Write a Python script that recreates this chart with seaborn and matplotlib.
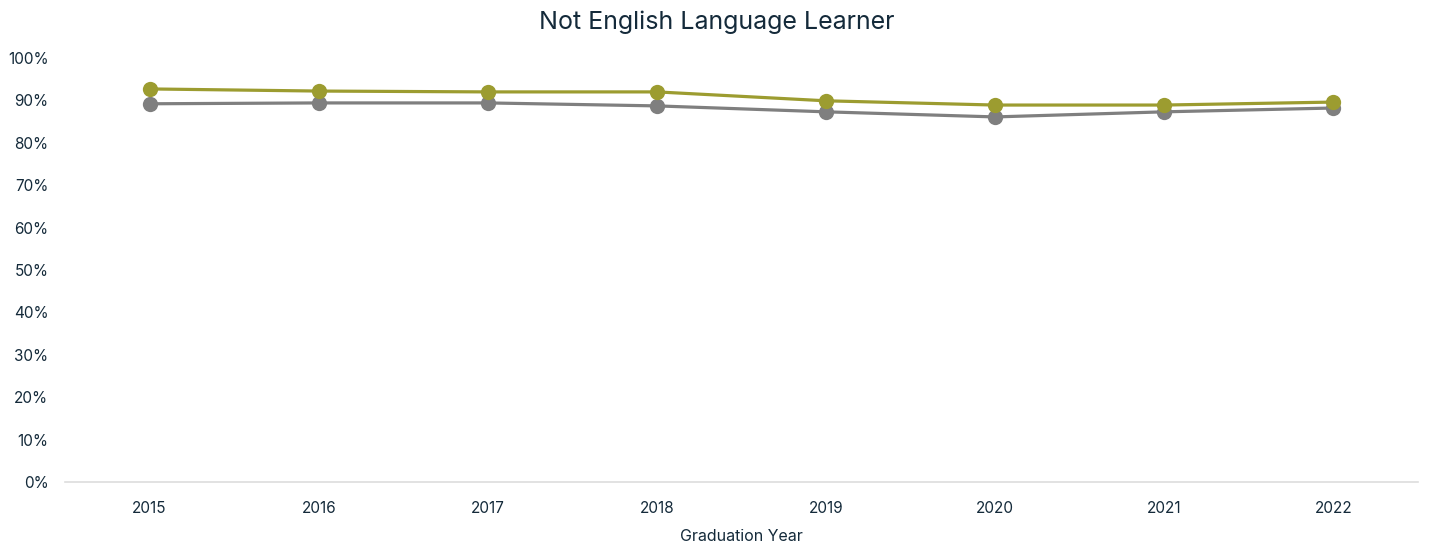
import numpy as np
import pandas as pd
import seaborn as sns
import matplotlib.pyplot as plt
from matplotlib.ticker import PercentFormatter

years = ["2015", "2016", "2017", "2018", "2019", "2020", "2021", "2022"]
series_a = [0.927, 0.922, 0.920, 0.920, 0.899, 0.889, 0.889, 0.896]  # olive
series_b = [0.892, 0.894, 0.894, 0.887, 0.873, 0.861, 0.873, 0.882]  # grey
names = ["Olive", "Grey"]
colors = ["#9c9c30", "#7f7f7f"]

df = pd.DataFrame({
    "year": years * 2,
    "rate": series_a + series_b,
    "group": [names[0]] * len(years) + [names[1]] * len(years),
})

sns.set_style("white")
plt.rcParams["font.family"] = ["Inter", "DejaVu Sans"]
text_col = "#142a3a"

fig = plt.figure(figsize=(14.3, 5.48), dpi=100)
ax = fig.add_axes([0.0455, 0.1204, 0.946, 0.7738])

# draw grey underneath olive
sns.lineplot(data=df, x="year", y="rate", hue="group", hue_order=[names[1], names[0]],
             palette=[colors[1], colors[0]], marker="o", markersize=11, markeredgewidth=0,
             linewidth=2.3, legend=False, ax=ax)

ax.set_ylim(0, 1.0)
ax.set_xlim(-0.5, len(years) - 0.5)
ax.set_yticks(np.arange(0, 1.01, 0.1))
ax.yaxis.set_major_formatter(PercentFormatter(1.0, decimals=0))
ax.tick_params(axis="both", length=0, labelsize=11, colors=text_col)
ax.tick_params(axis="x", pad=14)
ax.tick_params(axis="y", pad=12)

for s in ["top", "right", "left"]:
    ax.spines[s].set_visible(False)
ax.spines["bottom"].set_color("#dddddd")
ax.spines["bottom"].set_linewidth(1.2)

ax.set_xlabel("Graduation Year", fontsize=11.5, color=text_col, labelpad=9)
ax.set_ylabel("")
fig.suptitle("Not English Language Learner", fontsize=18, color=text_col, x=0.501, y=0.98)

fig.savefig("out.png", dpi=100)
